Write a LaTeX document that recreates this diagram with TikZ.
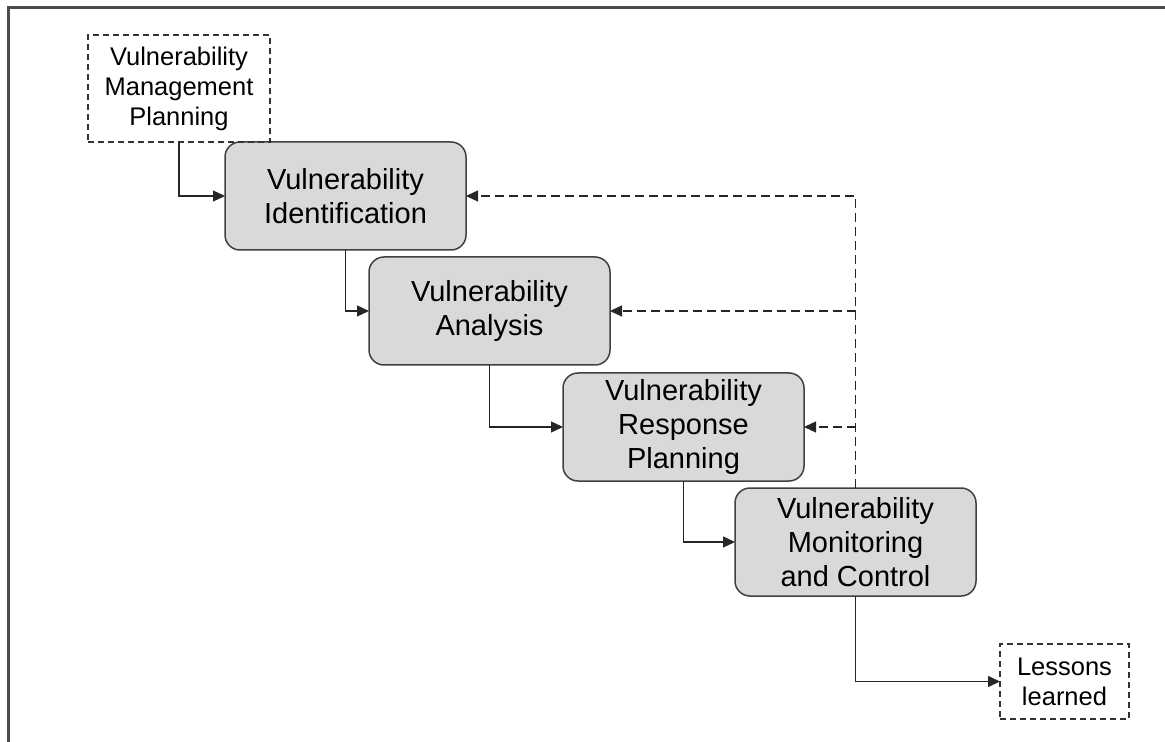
\documentclass[tikz,border=0pt]{standalone}
\usepackage{fontspec}
\setmainfont{Liberation Sans}
\usetikzlibrary{positioning, arrows.meta}
\definecolor{linegray}{HTML}{404040}
\definecolor{boxfill}{HTML}{D9D9D9}
\tikzset{
  stage/.style={draw=linegray, line width=0.75pt, fill=boxfill,
    rounded corners=7.5pt, align=center, inner sep=0pt, outer sep=0pt,
    minimum width=120.5pt, minimum height=54pt,
    font=\fontsize{14.5}{17}\selectfont},
  aside/.style={draw=black!80, line width=0.6pt, dash pattern=on 3pt off 2pt,
    align=center, inner sep=0pt, outer sep=0pt, font=\fontsize{12.75}{15}\selectfont},
  flow/.style={draw=black!85, line width=0.65pt, -{Triangle[length=6pt,width=5.5pt]}},
  back/.style={flow, dash pattern=on 4.5pt off 2.5pt}
}

\begin{document}
\begin{tikzpicture}[x=0.5pt, y=-0.5pt]
\useasboundingbox (0,0) rectangle (1165,742);
\draw[black!70, line width=1.2pt] (8.5,742) -- (8.5,7.5) -- (1165,7.5);
\node[stage] (vi) at (345.5,196) {Vulnerability\\Identification};
\node[stage, below right=3.5pt and -48.5pt of vi] (va) {Vulnerability\\Analysis};
\node[stage, below right=4pt and -23.5pt of va] (vrp) {Vulnerability\\Response\\Planning};
\node[stage, below right=3.5pt and -34.5pt of vrp] (vmc) {Vulnerability\\Monitoring\\and Control};
\node[aside, minimum width=91pt, minimum height=53.5pt,
  above left=0pt and -22.5pt of vi] (vmp) {Vulnerability\\Management\\Planning};
\node[aside, minimum width=64.5pt, minimum height=37.5pt,
  below right=24pt and 12pt of vmc] (ll) {Lessons\\learned};
\draw[flow] (vmp.south) |- (vi.west);
\draw[flow] (vi.south) |- (va.west);
\draw[flow] (va.south) |- (vrp.west);
\draw[flow] (vrp.south) |- (vmc.west);
\draw[flow] (vmc.south) |- (ll.west);
\draw[back] (vmc.north) |- (vi.east);
\draw[back] (vmc.north |- va.east) -- (va.east);
\draw[back] (vmc.north |- vrp.east) -- (vrp.east);
\end{tikzpicture}
\end{document}
